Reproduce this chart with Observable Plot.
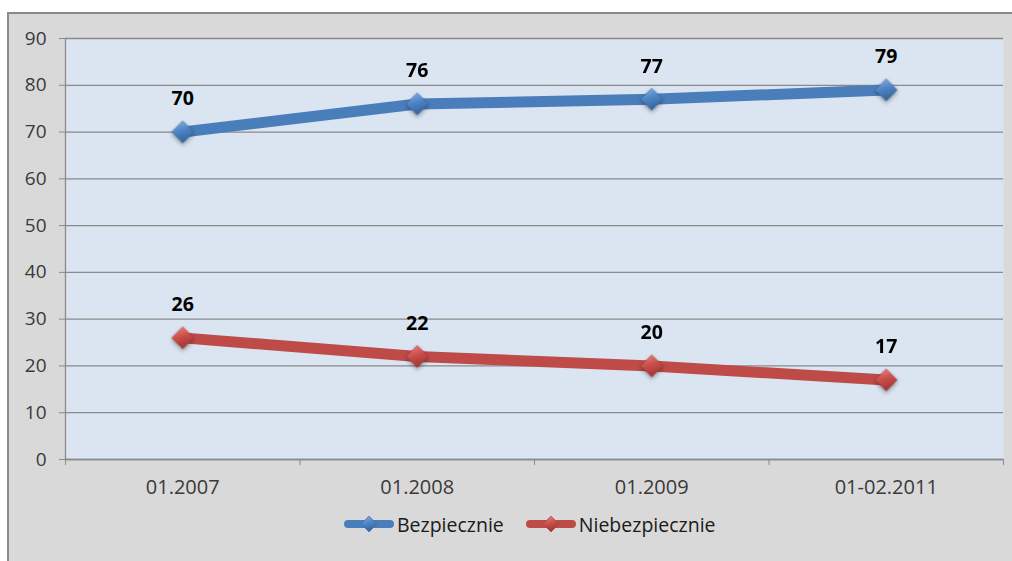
<!DOCTYPE html>
<html><head><meta charset="utf-8">
<script src="https://cdn.jsdelivr.net/npm/d3@7"></script>
<script src="https://cdn.jsdelivr.net/npm/@observablehq/plot@0.6"></script>
<style>
body{margin:0;background:#fff;width:1012px;height:561px;overflow:hidden;position:relative;font-family:"Open Sans",sans-serif}
#box{position:absolute;left:7px;top:12px;right:0;bottom:0;background:#d9d9d9;border-left:2px solid #8a8a8a;border-top:2px solid #8a8a8a}
#chart{position:absolute;left:0;top:0}
#legend{position:absolute;left:343px;top:510px;height:28px;display:flex;align-items:center;font-size:19.5px;color:#1a1a1a}
.item{display:flex;align-items:center;margin-right:21px}
.item span{margin-left:2px}
</style></head>
<body>
<div id="box"></div>
<div id="chart"></div>
<div id="legend"></div>
<script>
const categories = ["01.2007", "01.2008", "01.2009", "01-02.2011"];
const safe = [70, 76, 77, 79];
const unsafe = [26, 22, 20, 17];
const seriesNames = ["Bezpiecznie", "Niebezpiecznie"];
const seriesColors = ["#4a7ebb", "#be4b48"];
const yTicks = [0, 10, 20, 30, 40, 50, 60, 70, 80, 90];

const rowsSafe = categories.map((c, i) => ({i, cat: c, v: safe[i]}));
const rowsUnsafe = categories.map((c, i) => ({i, cat: c, v: unsafe[i]}));
const bounds = categories.map((c, i) => i - 0.5).concat([categories.length - 0.5]);

const grey = "#8a8a8a";
const chart = Plot.plot({
  width: 1012, height: 505,
  marginLeft: 65, marginRight: 9, marginTop: 38, marginBottom: 46,
  style: {fontFamily: "'Open Sans', sans-serif", fontSize: "19px", background: "transparent", overflow: "visible"},
  x: {type: "linear", domain: [-0.5, categories.length - 0.5]},
  y: {domain: [0, 90]},
  marks: [
    Plot.frame({fill: "#dbe5f1", stroke: "none"}),
    Plot.gridY(yTicks, {stroke: grey, strokeOpacity: 1, strokeWidth: 1.3}),
    Plot.axisY({ticks: yTicks, tickSize: 6, tickPadding: 13, stroke: grey, fill: "#3a3a3a", fontSize: 19, label: null}),
    Plot.ruleX([-0.5], {stroke: grey, strokeWidth: 1.3}),
    Plot.ruleY([0], {stroke: grey, strokeWidth: 1.5}),
    Plot.axisX({ticks: bounds, tickSize: 6, tickFormat: () => "", stroke: grey, label: null}),
    Plot.axisX({ticks: categories.map((c, i) => i), tickSize: 0, tickPadding: 20, tickFormat: i => categories[i], fill: "#3a3a3a", fontSize: 20, label: null}),
    Plot.line(rowsSafe, {x: "i", y: "v", stroke: seriesColors[0], strokeWidth: 11, strokeLinecap: "round", strokeLinejoin: "round"}),
    Plot.line(rowsUnsafe, {x: "i", y: "v", stroke: seriesColors[1], strokeWidth: 11, strokeLinecap: "round", strokeLinejoin: "round"}),
    Plot.dot(rowsSafe, {x: "i", y: "v", symbol: "diamond2", r: 9.9, fill: "url(#gBlue)", stroke: "#3d6aa3", strokeWidth: 0.6}),
    Plot.dot(rowsUnsafe, {x: "i", y: "v", symbol: "diamond2", r: 9.9, fill: "url(#gRed)", stroke: "#a33d3a", strokeWidth: 0.6}),
    Plot.text(rowsSafe, {x: "i", y: "v", text: d => String(d.v), dy: -33, fontWeight: "bold", fontSize: 19.5, fill: "#000"}),
    Plot.text(rowsUnsafe, {x: "i", y: "v", text: d => String(d.v), dy: -33, fontWeight: "bold", fontSize: 19.5, fill: "#000"})
  ]
});
const defs = `<defs>
<linearGradient id="gBlue" x1="0" y1="0" x2="0.3" y2="1"><stop offset="0" stop-color="#8db4e6"/><stop offset="0.5" stop-color="#4f86c6"/><stop offset="1" stop-color="#36659f"/></linearGradient>
<linearGradient id="gRed" x1="0" y1="0" x2="0.3" y2="1"><stop offset="0" stop-color="#ee8a86"/><stop offset="0.5" stop-color="#cd4f4b"/><stop offset="1" stop-color="#a33835"/></linearGradient>
</defs>`;
chart.insertAdjacentHTML("afterbegin", defs);
chart.querySelectorAll('g[aria-label="dot"]').forEach(g => g.style.filter = "drop-shadow(0 2px 2px rgba(0,0,0,0.35))");
document.getElementById("chart").appendChild(chart);

const legend = document.getElementById("legend");
seriesNames.forEach((name, k) => {
  const grad = k === 0 ? "gBlue" : "gRed";
  const item = document.createElement("div");
  item.className = "item";
  item.innerHTML = `<svg width="52" height="20" viewBox="0 0 52 20">
    <line x1="5" y1="10" x2="47" y2="10" stroke="${seriesColors[k]}" stroke-width="8" stroke-linecap="round"/>
    <path d="M26,2 L34,10 L26,18 L18,10 Z" fill="url(#${grad})" stroke="${k === 0 ? '#3d6aa3' : '#a33d3a'}" stroke-width="0.6"/>
  </svg><span>${name}</span>`;
  legend.appendChild(item);
});
</script>
</body></html>
